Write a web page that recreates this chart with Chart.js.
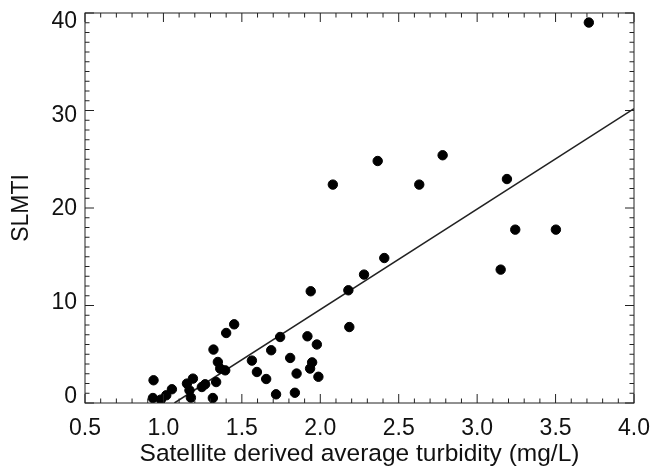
<!DOCTYPE html>
<html>
<head>
<meta charset="utf-8">
<script src="https://cdn.jsdelivr.net/npm/chart.js@4.4.1/dist/chart.umd.min.js"></script>
<style>
  html, body { margin: 0; padding: 0; background: #fff; }
  #wrap { width: 654px; height: 469px; }
</style>
</head>
<body>
<div id="wrap"><canvas id="chart"></canvas></div>
<script>
const turbidity = [0.937, 0.933, 0.984, 1.018, 1.054, 1.150, 1.188, 1.166, 1.175, 1.245,
    1.266, 1.319, 1.347, 1.362, 1.394, 1.336, 1.315, 1.400, 1.451, 1.564,
    1.596, 1.655, 1.687, 1.744, 1.718, 1.808, 1.849, 1.838, 1.918, 1.978,
    1.948, 1.935, 1.988, 1.939, 2.080, 2.185, 2.179, 2.279, 2.408, 2.366,
    2.631, 2.780, 3.190, 3.150, 3.243, 3.502, 3.712];
const slmti = [2.33, 0.51, 0.35, 0.79, 1.41, 1.99, 2.50, 1.30, 0.55, 1.64,
    1.92, 5.48, 4.21, 3.53, 3.35, 2.15, 0.51, 7.18, 8.07, 4.35,
    3.18, 2.46, 5.41, 6.77, 0.89, 4.62, 3.02, 1.05, 6.84, 6.00,
    4.17, 3.53, 2.69, 11.46, 22.40, 7.79, 11.56, 13.17, 14.87, 24.82,
    22.40, 25.41, 22.97, 13.68, 17.78, 17.78, 39.02];
const fitX = [1.07, 4.0];
const fitY = [0, 30.2];

const xTickValues = [0.5, 1.0, 1.5, 2.0, 2.5, 3.0, 3.5, 4.0];
const yTickValues = [0, 10, 20, 30, 40];
const xMinorStep = 0.1;
const yMinorStep = 1;

const family = '"Liberation Sans", Arial, Helvetica, sans-serif';
const tickFont = { family, size: 23 };
const titleFont = { family, size: 24.5 };

// IDL-style box with inward ticks on all four sides, y labels pulled slightly inside the box
const boxTicks = {
    id: 'boxTicks',
    afterDraw(chart) {
        const { ctx, chartArea: a, scales: { x, y } } = chart;
        ctx.save();
        ctx.strokeStyle = '#222';
        ctx.lineWidth = 1;
        ctx.strokeRect(a.left, a.top, a.right - a.left, a.bottom - a.top);
        ctx.beginPath();
        const nx = Math.round((x.max - x.min) / xMinorStep);
        for (let i = 0; i <= nx; i++) {
            const px = x.getPixelForValue(x.min + i * xMinorStep);
            const len = i % 5 === 0 ? 9 : 4.5;
            ctx.moveTo(px, a.bottom); ctx.lineTo(px, a.bottom - len);
            ctx.moveTo(px, a.top); ctx.lineTo(px, a.top + len);
        }
        const ny = Math.round((y.max - y.min) / yMinorStep);
        for (let i = 0; i <= ny; i++) {
            const py = y.getPixelForValue(y.min + i * yMinorStep);
            const len = i % 10 === 0 ? 9 : 4.5;
            ctx.moveTo(a.left, py); ctx.lineTo(a.left + len, py);
            ctx.moveTo(a.right, py); ctx.lineTo(a.right - len, py);
        }
        ctx.stroke();

        ctx.fillStyle = '#111';
        ctx.font = `${tickFont.size}px ${family}`;
        ctx.textAlign = 'right';
        ctx.textBaseline = 'middle';
        const mid = (a.top + a.bottom) / 2;
        yTickValues.forEach(v => {
            const py = mid + (y.getPixelForValue(v) - mid) * 0.96;
            ctx.fillText(String(v), a.left - 8, py + 1);
        });
        ctx.restore();
    }
};

new Chart(document.getElementById('chart'), {
    type: 'scatter',
    data: {
        datasets: [
            {
                data: turbidity.map((v, i) => ({ x: v, y: slmti[i] })),
                backgroundColor: '#000',
                borderColor: '#000',
                pointRadius: 4.7,
                pointHoverRadius: 4.7
            },
            {
                data: fitX.map((v, i) => ({ x: v, y: fitY[i] })),
                showLine: true,
                borderColor: '#222',
                borderWidth: 1.5,
                pointRadius: 0
            }
        ]
    },
    options: {
        responsive: true,
        maintainAspectRatio: false,
        animation: false,
        layout: { padding: { top: 13, right: 20, left: 0, bottom: 0 } },
        plugins: { legend: { display: false }, tooltip: { enabled: false } },
        scales: {
            x: {
                type: 'linear',
                min: 0.5,
                max: 4.0,
                afterBuildTicks: s => { s.ticks = xTickValues.map(v => ({ value: v })); },
                afterFit: s => { s.height = 66; s.paddingLeft = 0; s.paddingRight = 0; },
                grid: { display: false, drawTicks: false },
                border: { display: false },
                ticks: { color: '#111', font: tickFont, padding: 12, maxRotation: 0, callback: v => v.toFixed(1) },
                title: {
                    display: true,
                    text: 'Satellite derived average turbidity (mg/L)',
                    color: '#111',
                    font: titleFont,
                    padding: { top: 0, bottom: 0 }
                }
            },
            y: {
                type: 'linear',
                min: 0,
                max: 40,
                afterBuildTicks: s => { s.ticks = yTickValues.map(v => ({ value: v })); },
                afterFit: s => { s.width = 85; s.paddingTop = 0; s.paddingBottom = 0; },
                grid: { display: false, drawTicks: false },
                border: { display: false },
                ticks: { display: false },
                title: {
                    display: true,
                    text: 'SLMTI',
                    color: '#111',
                    font: { family, size: 23 },
                    padding: { top: 8, bottom: 0 }
                }
            }
        }
    },
    plugins: [boxTicks]
});
</script>
</body>
</html>
